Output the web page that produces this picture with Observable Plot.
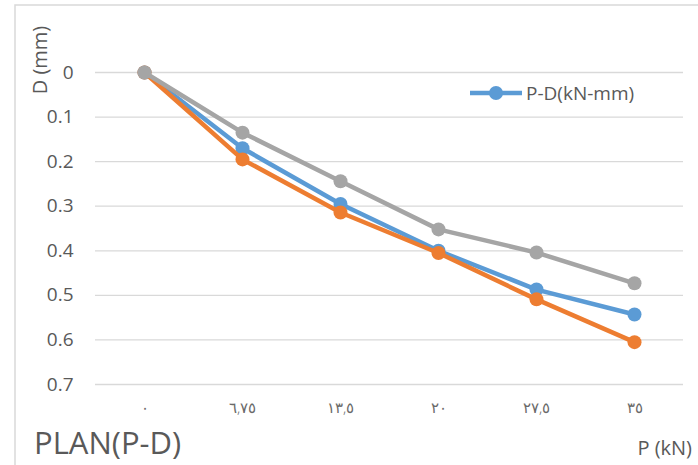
<!DOCTYPE html>
<html>
<head>
<meta charset="utf-8">
<script src="https://cdn.jsdelivr.net/npm/d3@7"></script>
<script src="https://cdn.jsdelivr.net/npm/@observablehq/plot@0.6"></script>
<style>
  body { margin: 0; background: #fff; }
  #chart { width: 698px; height: 465px; }
</style>
</head>
<body>
<div id="chart"></div>
<script>
// Load steps (kN) and their Arabic-Indic tick labels
const loads = ["0", "6.75", "13.5", "20", "27.5", "35"];
const loadLabels = ["٠", "٦,٧٥", "١٣,٥", "٢٠", "٢٧,٥", "٣٥"];

// Deflection D (mm) for each load step, three test series
const deflectionBlue = [0, 0.17, 0.295, 0.40, 0.487, 0.543];
const deflectionOrange = [0, 0.195, 0.314, 0.405, 0.509, 0.605];
const deflectionGray = [0, 0.135, 0.244, 0.352, 0.404, 0.473];

const seriesColors = ["#5B9BD5", "#ED7D31", "#A5A5A5"];
const yTicks = [0, 0.1, 0.2, 0.3, 0.4, 0.5, 0.6, 0.7];
const legendLabel = "P-D(kN-mm)";

const series = [deflectionBlue, deflectionOrange, deflectionGray].map((vals, s) =>
  vals.map((d, i) => ({ s, p: loads[i], d }))
);

const plot = Plot.plot({
  width: 698,
  height: 465,
  marginLeft: 95,
  marginRight: 15,
  marginTop: 72,
  marginBottom: 81,
  style: { fontFamily: "'Open Sans', 'DejaVu Sans', sans-serif", color: "#595959", background: "transparent" },
  x: { type: "point", domain: loads, padding: 0.5 },
  y: { domain: [0, 0.7], reverse: true },
  color: { type: "ordinal", domain: [0, 1, 2], range: seriesColors },
  marks: [
    Plot.ruleY(yTicks, { stroke: "#D9D9D9", strokeWidth: 1.3 }),
    Plot.axisY({ ticks: yTicks, tickSize: 0, tickPadding: 22, fontSize: 19, label: null,
                 tickFormat: (d) => (d === 0 ? "0" : d.toFixed(1)) }),
    Plot.axisX({ tickSize: 0, tickPadding: 18, fontSize: 15, fontWeight: 200, label: null,
                 fill: "#6a6a6a",
                 tickFormat: (d) => loadLabels[loads.indexOf(d)] }),
    ...series.flatMap((rows) => [
      Plot.line(rows, { x: "p", y: "d", stroke: "s", strokeWidth: 4.5 }),
      Plot.dot(rows, { x: "p", y: "d", fill: "s", r: 7 })
    ])
  ]
});

document.getElementById("chart").appendChild(plot);

// Chart frame, axis titles, chart title and legend
const svg = d3.select(plot);
const font = "'Open Sans', sans-serif";

svg.insert("path", ":first-child")
  .attr("d", "M15,465V5H698")
  .attr("fill", "none")
  .attr("stroke", "#D9D9D9")
  .attr("stroke-width", 1.5);

svg.append("text")
  .attr("transform", "translate(47,60) rotate(-90)")
  .attr("text-anchor", "middle")
  .attr("font-family", font)
  .attr("font-size", 20)
  .attr("fill", "#595959")
  .text("D (mm)");

svg.append("text")
  .attr("x", 34).attr("y", 454)
  .attr("text-anchor", "start")
  .attr("font-family", font)
  .attr("font-size", 31)
  .attr("fill", "#595959")
  .text("PLAN(P-D)");

svg.append("text")
  .attr("x", 692).attr("y", 455)
  .attr("text-anchor", "end")
  .attr("font-family", font)
  .attr("font-size", 20)
  .attr("fill", "#595959")
  .text("P (kN)");

const legend = svg.append("g");
legend.append("line")
  .attr("x1", 470).attr("x2", 522).attr("y1", 93).attr("y2", 93)
  .attr("stroke", seriesColors[0]).attr("stroke-width", 4.5);
legend.append("circle")
  .attr("cx", 496).attr("cy", 93).attr("r", 7)
  .attr("fill", seriesColors[0]);
legend.append("text")
  .attr("x", 526).attr("y", 93)
  .attr("dy", "0.35em")
  .attr("text-anchor", "start")
  .attr("font-family", font)
  .attr("font-size", 19)
  .attr("fill", "#595959")
  .text(legendLabel);
</script>
</body>
</html>
